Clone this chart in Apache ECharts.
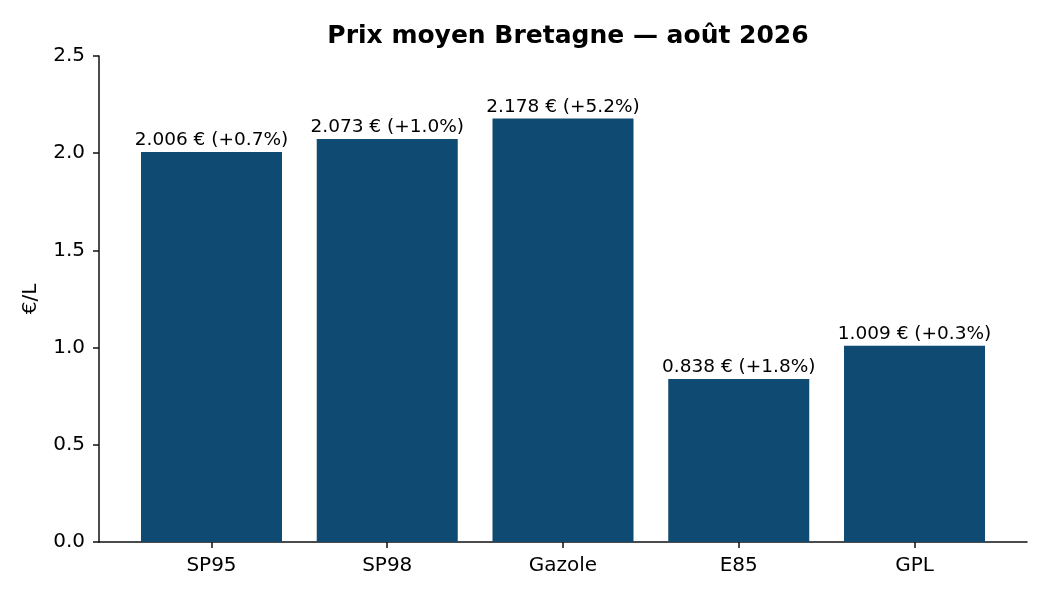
<!DOCTYPE html>
<html>
  <head>
    <meta charset="UTF-8" />
    <title>Prix moyen Bretagne</title>
    <script src="https://cdn.jsdelivr.net/npm/echarts@6/dist/echarts.min.js"></script>
  </head>
  <body style="margin: 0">
    <div id="chart" style="width: 1050px; height: 600px"></div>
    <script>
      var carburants = ["SP95", "SP98", "Gazole", "E85", "GPL"];
      var prix = [2.006, 2.073, 2.178, 0.838, 1.009];
      var variations = [0.7, 1.0, 5.2, 1.8, 0.3];

      var font = "DejaVu Sans";
      var positions = carburants.map(function (c, i) {
        return i;
      });

      var data = prix.map(function (p, i) {
        return [i, p];
      });

      var option = {
        backgroundColor: "#ffffff",
        animation: false,
        title: {
          text: "Prix moyen Bretagne — août 2026",
          left: 563,
          textAlign: "center",
          top: 19,
          textStyle: {
            fontFamily: font,
            fontWeight: "bold",
            fontSize: 25,
            color: "#000",
          },
        },
        grid: { left: 99, right: 23, top: 56, bottom: 58 },
        xAxis: {
          type: "value",
          min: -0.64,
          max: 4.64,
          splitLine: { show: false },
          axisLine: { show: true, onZero: false, lineStyle: { color: "#111", width: 1.5 } },
          axisTick: {
            show: true,
            customValues: positions,
            length: 6,
            lineStyle: { color: "#111", width: 1.5 },
          },
          axisLabel: {
            customValues: positions,
            margin: 14,
            fontFamily: font,
            fontSize: 20,
            color: "#000",
            formatter: function (v) {
              return carburants[Math.round(v)];
            },
          },
        },
        yAxis: {
          type: "value",
          min: 0,
          max: 2.5,
          interval: 0.5,
          name: "€/L",
          nameLocation: "middle",
          nameGap: 58,
          nameRotate: 90,
          nameTextStyle: { fontFamily: font, fontSize: 20, color: "#000" },
          splitLine: { show: false },
          axisLine: { show: true, onZero: false, lineStyle: { color: "#111", width: 1.5 } },
          axisTick: { show: true, length: 6, lineStyle: { color: "#111", width: 1.5 } },
          axisLabel: {
            margin: 14,
            fontFamily: font,
            fontSize: 20,
            color: "#000",
            formatter: function (v) {
              return v.toFixed(1);
            },
          },
        },
        series: [
          {
            type: "bar",
            data: data,
            barWidth: 141,
            itemStyle: { color: "#0f4a73" },
            label: {
              show: true,
              position: "top",
              distance: 2,
              fontFamily: font,
              fontSize: 18.5,
              color: "#000",
              formatter: function (p) {
                var i = p.dataIndex;
                return prix[i].toFixed(3) + " € (+" + variations[i].toFixed(1) + "%)";
              },
            },
          },
        ],
      };

      var myChart = echarts.init(document.getElementById("chart"));
      myChart.setOption(option);
    </script>
  </body>
</html>
